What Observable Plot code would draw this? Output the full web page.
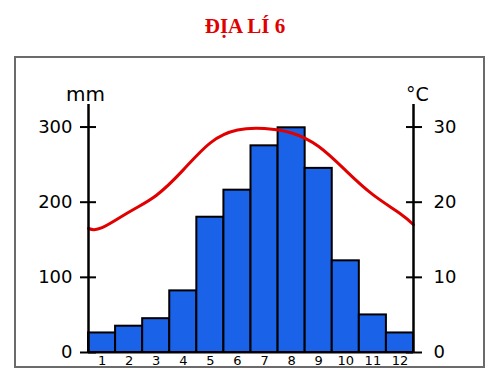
<!DOCTYPE html>
<html><head><meta charset="utf-8">
<script src="https://cdn.jsdelivr.net/npm/d3@7"></script>
<script src="https://cdn.jsdelivr.net/npm/@observablehq/plot@0.6"></script>
<style>
body{margin:0;background:#fff;width:500px;height:375px;overflow:hidden;position:relative;}
#title{position:absolute;left:0;top:16px;width:490px;text-align:center;font:bold 21px/20px "Liberation Serif","Times New Roman",serif;color:#e00000;}
#box{position:absolute;left:14px;top:56px;width:467px;height:308px;border:2px solid #6b6b6b;}
#box svg{overflow:visible;display:block;}
</style></head><body>
<div id="title">ĐỊA LÍ 6</div>
<div id="box"></div>
<script>
const months = [1, 2, 3, 4, 5, 6, 7, 8, 9, 10, 11, 12];
const rainfallMm = [26, 35, 45, 82, 180, 216, 275, 299, 245, 122, 50, 26];
const tempPos = [0.5, 1, 2, 3, 4, 5, 6, 7, 8, 9, 10, 11, 12, 12.5];
const tempC = [16.5, 16.6, 18.7, 20.9, 24.3, 27.9, 29.6, 29.8, 29.2, 27.4, 24.2, 21.0, 18.5, 17.0];
const mmTicks = [0, 100, 200, 300];
const cTicks = [0, 10, 20, 30];
const xDomain = [0.5, 12.5];
const yDomain = [0, 330];

const bars = months.map((m, i) => ({m, mm: rainfallMm[i]}));
const temps = tempPos.map((p, i) => ({p, t: tempC[i]}));

const chart = Plot.plot({
  width: 467,
  height: 308,
  marginLeft: 72,
  marginRight: 70,
  marginTop: 46,
  marginBottom: 14,
  style: {fontFamily: "DejaVu Sans, sans-serif", color: "#000", background: "transparent"},
  x: {domain: xDomain},
  y: {domain: yDomain},
  marks: [
    Plot.rect(bars, {x1: d => d.m - 0.5, x2: d => d.m + 0.5, y1: 0, y2: "mm", fill: "#1a62e8", stroke: "#000", strokeWidth: 2}),
    Plot.line(temps, {x: "p", y: d => d.t * 10, curve: "natural", stroke: "#e00000", strokeWidth: 3}),
    Plot.ruleX(xDomain, {stroke: "#000", strokeWidth: 2.5}),
    Plot.ruleY([0], {stroke: "#000", strokeWidth: 2}),
    Plot.axisY({anchor: "left", ticks: mmTicks, tickSize: 16, dx: 8, fill: "none", label: null, strokeWidth: 2}),
    Plot.axisY({anchor: "left", ticks: mmTicks, tickSize: 0, tickPadding: 16, fontSize: 18, label: null}),
    Plot.axisY({anchor: "right", ticks: cTicks.map(c => c * 10), tickSize: 16, dx: -8, fill: "none", label: null, strokeWidth: 2}),
    Plot.axisY({anchor: "right", ticks: cTicks.map(c => c * 10), tickFormat: d => String(d / 10), tickSize: 0, tickPadding: 20, fontSize: 18, label: null}),
    Plot.axisX({ticks: months, tickFormat: d => String(d), tickSize: 0, tickPadding: 3, fontSize: 13, label: null}),
    Plot.text(["mm"], {frameAnchor: "top-left", text: d => d, textAnchor: "middle", dx: -3, dy: -18, fontSize: 20}),
    Plot.text(["°C"], {frameAnchor: "top-right", text: d => d, textAnchor: "middle", dx: 4, dy: -17, fontSize: 19})
  ]
});
document.getElementById("box").appendChild(chart);
</script>
</body></html>
